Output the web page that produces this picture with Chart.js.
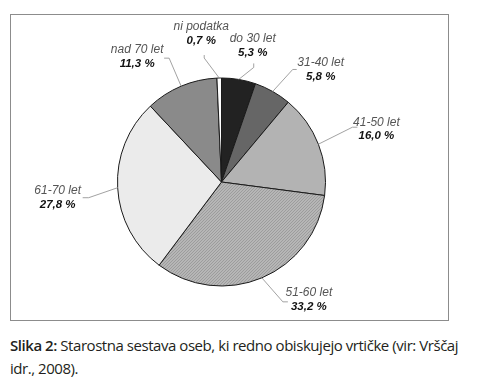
<!DOCTYPE html>
<html>
<head>
<meta charset="utf-8">
<script src="https://cdn.jsdelivr.net/npm/chart.js@4"></script>
<style>
  html, body { margin: 0; padding: 0; background: #fff; }
  body { width: 481px; height: 384px; position: relative; overflow: hidden; }
  #frame { position: absolute; left: 10px; top: 14px; width: 437px; height: 305px; border: 1px solid #8c8c8c; }
  #wrap { position: absolute; left: 0; top: 0; width: 481px; height: 330px; }
  #caption { position: absolute; left: 10px; top: 334px; width: 470px; font-family: "Open Sans", "Noto Sans", sans-serif;
             font-size: 15px; line-height: 23px; color: #231f20; letter-spacing: -0.45px; white-space: nowrap; }
  #caption b { font-weight: 600; }
</style>
</head>
<body>
<div id="frame"></div>
<div id="wrap"><canvas id="pieChart"></canvas></div>
<div id="caption"><b>Slika 2:</b> Starostna sestava oseb, ki redno obiskujejo vrtičke (vir: Vrščaj<br>idr., 2008).</div>
<script>
// podatki
const categories = ['do 30 let', '31-40 let', '41-50 let', '51-60 let', '61-70 let', 'nad 70 let', 'ni podatka'];
const shares = [5.3, 5.8, 16.0, 33.2, 27.8, 11.3, 0.7];
const shareLabels = ['5,3 %', '5,8 %', '16,0 %', '33,2 %', '27,8 %', '11,3 %', '0,7 %'];

// pikčast vzorec za 51-60 let
const dots = document.createElement('canvas');
dots.width = 3; dots.height = 3;
const dctx = dots.getContext('2d');
dctx.fillStyle = '#b6b6b6'; dctx.fillRect(0, 0, 3, 3);
dctx.fillStyle = '#9c9c9c'; dctx.fillRect(0, 0, 1, 1); dctx.fillRect(2, 1, 1, 1); dctx.fillRect(1, 2, 1, 1);
const dotPattern = dctx.createPattern(dots, 'repeat');

const fills = ['#222222', '#666666', '#b3b3b3', dotPattern, '#ebebeb', '#8a8a8a', '#ffffff'];

// odmiki opornih črt in napisov glede na rob kosa: [koleno, konec, besedilo]
const labelLayout = [
    [[15, -12], [15, -16], [14, -41]],
    [[20, -22], [24, -22], [48, -29]],
    [[34, -17], [39, -17], [58, -22]],
    [[21, 24], [26, 24], [47, 15]],
    [[-29, 10], [-35, 10], [-60, 3]],
    [[-12, -28], [-17, -28], [-44, -36]],
    [[-15, -20], [-15, -23], [-18, -51]]
];

const calloutPlugin = {
    id: 'callouts',
    afterDatasetsDraw(chart) {
        const ctx = chart.ctx;
        const arcs = chart.getDatasetMeta(0).data;
        ctx.save();
        arcs.forEach((arc, i) => {
            const p = arc.getProps(['x', 'y', 'startAngle', 'endAngle', 'outerRadius'], true);
            const mid = (p.startAngle + p.endAngle) / 2;
            const ex = p.x + Math.cos(mid) * p.outerRadius;
            const ey = p.y + Math.sin(mid) * p.outerRadius;
            const [knee, end, txt] = labelLayout[i];
            ctx.strokeStyle = '#8a8a8a';
            ctx.lineWidth = 0.8;
            ctx.beginPath();
            ctx.moveTo(ex, ey);
            ctx.lineTo(ex + knee[0], ey + knee[1]);
            ctx.lineTo(ex + end[0], ey + end[1]);
            ctx.stroke();
            ctx.textAlign = 'center';
            ctx.textBaseline = 'middle';
            ctx.fillStyle = '#555555';
            ctx.font = 'italic 12px "Liberation Sans", Arial, sans-serif';
            ctx.fillText(categories[i], ex + txt[0], ey + txt[1]);
            ctx.fillStyle = '#111111';
            ctx.font = 'italic bold 11.5px "Liberation Sans", Arial, sans-serif';
            ctx.fillText(shareLabels[i], ex + txt[0], ey + txt[1] + 14);
        });
        ctx.restore();
    }
};

new Chart(document.getElementById('pieChart'), {
    type: 'pie',
    data: {
        labels: categories,
        datasets: [{
            data: shares,
            backgroundColor: fills,
            borderColor: '#1a1a1a',
            borderWidth: 1
        }]
    },
    options: {
        responsive: true,
        maintainAspectRatio: false,
        animation: false,
        layout: { padding: { left: 117, right: 155, top: 77, bottom: 43 } },
        plugins: {
            legend: { display: false },
            tooltip: { enabled: false }
        }
    },
    plugins: [calloutPlugin]
});
</script>
</body>
</html>
